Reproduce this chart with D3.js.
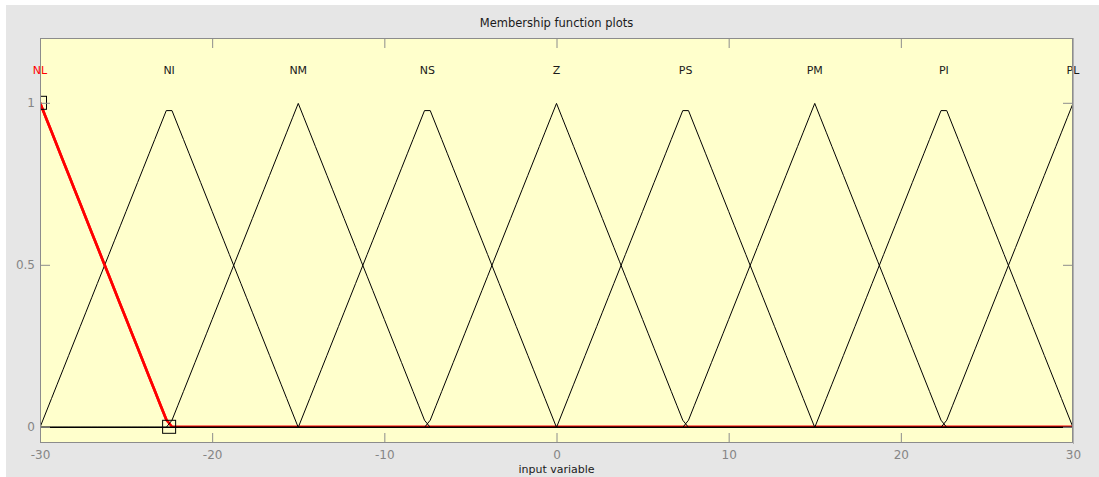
<!DOCTYPE html>
<html>
<head>
<meta charset="utf-8">
<script src="https://cdn.jsdelivr.net/npm/d3@7"></script>
<style>
  html, body { margin: 0; padding: 0; background: #ffffff; }
  svg { display: block; }
  text { font-family: "DejaVu Sans", "Liberation Sans", Arial, sans-serif; }
</style>
</head>
<body>
<svg id="chart" width="1099" height="477"></svg>
<script>
// Membership functions of the input variable (triangular: left foot, peak, right foot)
const mfNames = ["NL", "NI", "NM", "NS", "Z", "PS", "PM", "PI", "PL"];
const mfLeft  = [-37.5, -30, -22.5, -15, -7.5, 0, 7.5, 15, 22.5];
const mfPeak  = [-30, -22.5, -15, -7.5, 0, 7.5, 15, 22.5, 30];
const mfRight = [-22.5, -15, -7.5, 0, 7.5, 15, 22.5, 30, 37.5];
const selectedMf = "NL";

// Input range and plotting resolution (number of evaluation points)
const inputRange = [-30, 30];
const nPoints = 181;

// Axis ticks
const xTicks = [-30, -20, -10, 0, 10, 20, 30];
const yTicks = [0, 0.5, 1];

const svg = d3.select("#chart");
const W = 1099, H = 477;
const plot = { left: 40, right: 1073, top: 38, bottom: 443 };

// figure background
svg.append("rect").attr("x", 6).attr("y", 5).attr("width", W - 6).attr("height", H - 5)
  .attr("fill", "#e6e6e6");

const x = d3.scaleLinear().domain(inputRange).range([plot.left, plot.right]);
const y = d3.scaleLinear().domain([-0.05, 1.2]).range([plot.bottom, plot.top]);

// axes background
svg.append("rect")
  .attr("x", plot.left).attr("y", plot.top)
  .attr("width", plot.right - plot.left).attr("height", plot.bottom - plot.top)
  .attr("fill", "#ffffcc");

svg.append("defs").append("clipPath").attr("id", "plotClip")
  .append("rect")
  .attr("x", plot.left).attr("y", plot.top)
  .attr("width", plot.right - plot.left).attr("height", plot.bottom - plot.top);

// evaluate a triangular membership function
function trimf(v, a, b, c) {
  if (v <= a || v >= c) return v === b ? 1 : 0;
  if (v <= b) return b === a ? 1 : (v - a) / (b - a);
  return c === b ? 1 : (c - v) / (c - b);
}

const samples = d3.range(nPoints).map(i =>
  inputRange[0] + i * (inputRange[1] - inputRange[0]) / (nPoints - 1));

const line = d3.line().x(d => x(d[0])).y(d => y(d[1]));

const g = svg.append("g").attr("clip-path", "url(#plotClip)");

const mfs = mfNames.map((name, i) => ({
  name,
  params: [mfLeft[i], mfPeak[i], mfRight[i]],
  pts: samples.map(v => [v, trimf(v, mfLeft[i], mfPeak[i], mfRight[i])])
}));

// selected function first (thick red), other functions drawn over it in thin black
mfs.filter(m => m.name === selectedMf).forEach(m => {
  g.append("path").attr("d", line(m.pts))
    .attr("fill", "none").attr("stroke", "#ff0000")
    .attr("stroke-width", 2.6).attr("stroke-linejoin", "round");
});
mfs.filter(m => m.name !== selectedMf).forEach(m => {
  g.append("path").attr("d", line(m.pts))
    .attr("fill", "none").attr("stroke", "#000000")
    .attr("stroke-width", 1).attr("stroke-linejoin", "round")
    .attr("transform", "translate(0,0.6)");
});
// redraw the slope of the selected function on top
mfs.filter(m => m.name === selectedMf).forEach(m => {
  const slope = m.pts.filter(p => p[1] > 0 || p[0] <= m.params[2]);
  g.append("path").attr("d", line(slope))
    .attr("fill", "none").attr("stroke", "#ff0000")
    .attr("stroke-width", 2.6).attr("stroke-linejoin", "round");
  // parameter markers
  m.params.forEach(p => {
    g.append("rect")
      .attr("x", x(p) - 6.5).attr("y", y(trimf(p, ...m.params)) - 6.5)
      .attr("width", 13).attr("height", 13)
      .attr("fill", "none").attr("stroke", "#000").attr("stroke-width", 1);
  });
});

// function names above the peaks
mfs.forEach(m => {
  svg.append("text")
    .attr("x", x(m.params[1])).attr("y", 74)
    .attr("text-anchor", "middle")
    .attr("font-size", 11)
    .attr("fill", m.name === selectedMf ? "#ff0000" : "#1a1a1a")
    .text(m.name);
});

// frame
svg.append("rect")
  .attr("x", plot.left + 0.5).attr("y", plot.top + 0.5)
  .attr("width", plot.right - plot.left - 1).attr("height", plot.bottom - plot.top - 1)
  .attr("fill", "none").attr("stroke", "#8c8c8c").attr("stroke-width", 1);
svg.append("line")
  .attr("x1", plot.right + 0.5).attr("x2", plot.right + 0.5)
  .attr("y1", plot.top).attr("y2", plot.bottom + 1)
  .attr("stroke", "#b0b0b0");

// inward ticks on all four sides
const tickLen = 10;
const tickColor = "#8c8c8c";
const fmt = d => String(d);
const xAxisBottom = d3.axisBottom(x).tickValues(xTicks).tickSize(-tickLen).tickPadding(7).tickFormat(fmt);
const xAxisTop = d3.axisTop(x).tickValues(xTicks).tickSize(-tickLen).tickFormat("");
const yAxisLeft = d3.axisLeft(y).tickValues(yTicks).tickSize(-tickLen).tickPadding(5).tickFormat(fmt);
const yAxisRight = d3.axisRight(y).tickValues(yTicks).tickSize(-tickLen).tickFormat("");

function styleAxis(sel) {
  sel.select(".domain").remove();
  sel.selectAll(".tick line").attr("stroke", tickColor);
  sel.selectAll(".tick text")
    .attr("fill", "#858585")
    .attr("font-size", 12)
    .attr("font-family", "'DejaVu Sans', 'Liberation Sans', Arial, sans-serif");
}
svg.append("g").attr("transform", `translate(0,${plot.bottom})`).call(xAxisBottom).call(styleAxis);
svg.append("g").attr("transform", `translate(0,${plot.top})`).call(xAxisTop).call(styleAxis);
svg.append("g").attr("transform", `translate(${plot.left},0)`).call(yAxisLeft).call(styleAxis);
svg.append("g").attr("transform", `translate(${plot.right},0)`).call(yAxisRight).call(styleAxis);

// hide the tick marks at the corners that coincide with the frame
svg.selectAll(".tick line").each(function(d) {
  if (d === inputRange[0] || d === inputRange[1]) d3.select(this).attr("stroke", "none");
});

// titles
svg.append("text")
  .attr("x", (plot.left + plot.right) / 2).attr("y", 27)
  .attr("text-anchor", "middle").attr("font-size", 11.5).attr("fill", "#1a1a1a")
  .text("Membership function plots");
svg.append("text")
  .attr("x", (plot.left + plot.right) / 2).attr("y", 473)
  .attr("text-anchor", "middle").attr("font-size", 11).attr("fill", "#1a1a1a")
  .text("input variable");
</script>
</body>
</html>
